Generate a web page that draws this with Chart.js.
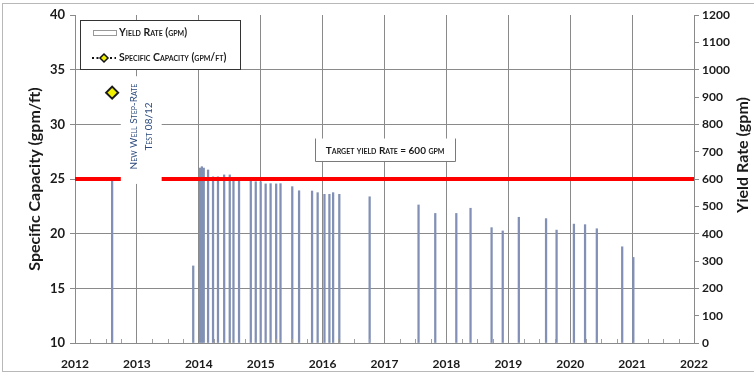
<!DOCTYPE html>
<html lang="en">
<head>
<meta charset="UTF-8">
<title>Specific Capacity and Yield Rate</title>
<script src="https://cdn.jsdelivr.net/npm/chart.js"></script>
<style>
  html, body { margin: 0; padding: 0; background: #fff; }
  #wrap { width: 754px; height: 374px; }
</style>
</head>
<body>
<div id="wrap"><canvas id="wellChart" width="754" height="374"></canvas></div>
<script>
  // yield rate test dates (decimal years) and rates (gpm)
  const yieldDates = [
    2012.60, 2013.91, 2014.02, 2014.05, 2014.08, 2014.15, 2014.23, 2014.31, 2014.41, 2014.50,
    2014.56, 2014.65, 2014.84, 2014.92, 2015.00, 2015.08, 2015.16, 2015.25, 2015.32, 2015.51,
    2015.62, 2015.83, 2015.92, 2016.03, 2016.11, 2016.17, 2016.27, 2016.76, 2017.55, 2017.82,
    2018.16, 2018.39, 2018.73, 2018.91, 2019.17, 2019.61, 2019.78, 2020.06, 2020.24, 2020.43,
    2020.84, 2021.02
  ];
  const yieldRates = [
    597, 282, 640, 645, 640, 633, 608, 608, 615, 615,
    597, 597, 597, 590, 590, 582, 583, 582, 583, 572,
    557, 556, 550, 544, 544, 550, 544, 535, 505, 474,
    474, 493, 422, 410, 460, 455, 413, 435, 433, 418,
    352, 313
  ];
  // specific capacity (gpm/ft)
  const capacityDates = [2012.60];
  const capacityValues = [32.9];
  const targetRate = 600;
  const yearRange = [2012, 2022];

  const gridGray = '#8a8a8a';
  const tickFont = { family: 'Lato', size: 12, weight: 'bold' };

  const overlay = {
    id: 'overlay',
    beforeDraw(chart) {
      const c = chart.ctx;
      c.save();
      c.fillStyle = '#fff';
      c.fillRect(0, 0, chart.width, chart.height);
      c.strokeStyle = '#b8b8b8';
      c.lineWidth = 1;
      c.strokeRect(2.5, 3.5, chart.width + 5, chart.height - 6);
      c.restore();
    },
    afterDatasetsDraw(chart) {
      const c = chart.ctx;
      const x = chart.scales.x, y = chart.scales.y;
      const area = chart.chartArea;
      c.save();

      // quarterly minor ticks along the bottom axis
      c.strokeStyle = '#a0a0a0';
      c.lineWidth = 1;
      for (let yr = yearRange[0]; yr < yearRange[1]; yr++) {
        [0.25, 0.5, 0.75].forEach(q => {
          const px = Math.round(x.getPixelForValue(yr + q)) + 0.5;
          c.beginPath();
          c.moveTo(px, area.bottom);
          c.lineTo(px, area.bottom - 4);
          c.stroke();
        });
      }

      // step-rate test note
      const l1 = x.getPixelForValue(2012.74), r1 = x.getPixelForValue(2013.40);
      const t1 = y.getPixelForValue(34.4), b1 = y.getPixelForValue(24.55);
      c.fillStyle = '#fff';
      c.fillRect(l1, t1, r1 - l1, b1 - t1);
      c.save();
      c.translate((l1 + r1) / 2, y.getPixelForValue(29.8));
      c.rotate(-Math.PI / 2);
      c.fillStyle = '#2b4a7e';
      c.font = 'small-caps 10px Lato';
      c.textAlign = 'center';
      c.textBaseline = 'middle';
      c.fillText('New Well Step-Rate', 0, -7);
      c.fillText('Test 08/12', 0, 8);
      c.restore();

      // target label
      const l2 = x.getPixelForValue(2015.88), r2 = x.getPixelForValue(2018.14);
      const t2 = y.getPixelForValue(28.7), b2 = y.getPixelForValue(26.65);
      c.fillStyle = '#fff';
      c.fillRect(l2, t2, r2 - l2, b2 - t2);
      c.strokeStyle = '#7a7a7a';
      c.beginPath();
      c.moveTo(Math.round(l2) + 0.5, t2);
      c.lineTo(Math.round(l2) + 0.5, Math.round(b2) + 0.5);
      c.lineTo(Math.round(r2) + 0.5, Math.round(b2) + 0.5);
      c.lineTo(Math.round(r2) + 0.5, t2);
      c.stroke();
      c.fillStyle = '#1a1a1a';
      c.font = 'small-caps bold 10px Lato';
      c.textAlign = 'center';
      c.textBaseline = 'middle';
      c.fillText('Target yield Rate = ' + targetRate + ' gpm', (l2 + r2) / 2, (t2 + b2) / 2 + 1);

      // legend box
      const lx = area.left + 5, ly = area.top + 5;
      c.fillStyle = '#fff';
      c.fillRect(lx, ly, 161, 50);
      c.strokeStyle = '#333';
      c.strokeRect(lx + 0.5, ly + 0.5, 160, 49);
      c.strokeStyle = '#999';
      c.strokeRect(lx + 13.5, ly + 10.5, 23, 5);
      c.strokeStyle = '#111';
      c.lineWidth = 2;
      c.setLineDash([2, 2.5]);
      c.beginPath();
      c.moveTo(lx + 12, ly + 38);
      c.lineTo(lx + 36, ly + 38);
      c.stroke();
      c.setLineDash([]);
      c.beginPath();
      c.moveTo(lx + 24, ly + 34);
      c.lineTo(lx + 28, ly + 38);
      c.lineTo(lx + 24, ly + 42);
      c.lineTo(lx + 20, ly + 38);
      c.closePath();
      c.fillStyle = '#f2f200';
      c.fill();
      c.lineWidth = 1.5;
      c.stroke();
      c.fillStyle = '#1a1a1a';
      c.font = 'small-caps bold 10.5px Lato';
      c.textAlign = 'left';
      c.textBaseline = 'middle';
      c.fillText('Yield Rate (gpm)', lx + 39, ly + 13);
      c.fillText('Specific Capacity (gpm/ft)', lx + 39, ly + 38);
      c.restore();
    },
    afterDraw(chart) {
      const c = chart.ctx;
      c.save();
      c.translate(743, 155);
      c.rotate(-Math.PI / 2);
      c.fillStyle = '#1a1a1a';
      c.font = 'bold 16px Lato';
      c.textAlign = 'center';
      c.textBaseline = 'middle';
      c.fillText('Yield Rate (gpm)', 0, 0);
      c.restore();
    }
  };

  new Chart(document.getElementById('wellChart'), {
    type: 'bar',
    data: {
      datasets: [
        {
          type: 'line',
          label: 'Target Yield Rate',
          data: yearRange.map(v => ({ x: v, y: targetRate })),
          yAxisID: 'y2',
          borderColor: '#ff0000',
          borderWidth: 4,
          pointRadius: 0
        },
        {
          type: 'line',
          label: 'Specific Capacity (gpm/ft)',
          data: capacityDates.map((d, i) => ({ x: d, y: capacityValues[i] })),
          yAxisID: 'y',
          showLine: false,
          pointStyle: 'rectRot',
          pointRadius: 6,
          pointBackgroundColor: '#f2f200',
          pointBorderColor: '#1a1a1a',
          pointBorderWidth: 2
        },
        {
          label: 'Yield Rate (gpm)',
          data: yieldDates.map((d, i) => ({ x: d, y: yieldRates[i] })),
          yAxisID: 'y2',
          backgroundColor: '#8190b4',
          barThickness: 1.6
        }
      ]
    },
    options: {
      responsive: false,
      animation: false,
      devicePixelRatio: 1,
      layout: { padding: { left: 3, right: 3, top: 15, bottom: 0 } },
      plugins: { legend: { display: false }, tooltip: { enabled: false } },
      scales: {
        x: {
          type: 'linear',
          min: yearRange[0],
          max: yearRange[1],
          offset: false,
          ticks: { stepSize: 1, callback: v => String(v), font: tickFont, color: '#1a1a1a', padding: 14, maxRotation: 0, autoSkip: false },
          grid: { color: gridGray, drawTicks: false, offset: false },
          border: { color: gridGray },
          afterFit(s) { s.height = 31; }
        },
        y: {
          position: 'left',
          min: 10,
          max: 40,
          ticks: { stepSize: 5, font: { family: 'Lato', size: 13, weight: 'bold' }, color: '#1a1a1a', padding: 5 },
          grid: { color: ctx => ctx.tick && ctx.tick.value === 40 ? 'rgba(0,0,0,0)' : gridGray, tickColor: gridGray, tickLength: 5 },
          border: { color: gridGray },
          title: { display: true, text: 'Specific Capacity (gpm/ft)', font: { family: 'Lato', size: 16, weight: 'bold' }, color: '#1a1a1a', padding: { top: 22, bottom: 0 } },
          afterFit(s) { s.width = 72; }
        },
        y2: {
          position: 'right',
          min: 0,
          max: 1200,
          ticks: { stepSize: 100, callback: v => String(v), font: tickFont, color: '#1a1a1a', padding: 3 },
          grid: { drawOnChartArea: false, color: gridGray, tickLength: 5 },
          border: { color: gridGray },
          afterFit(s) { s.width = 57; }
        }
      }
    },
    plugins: [overlay]
  });
</script>
</body>
</html>
